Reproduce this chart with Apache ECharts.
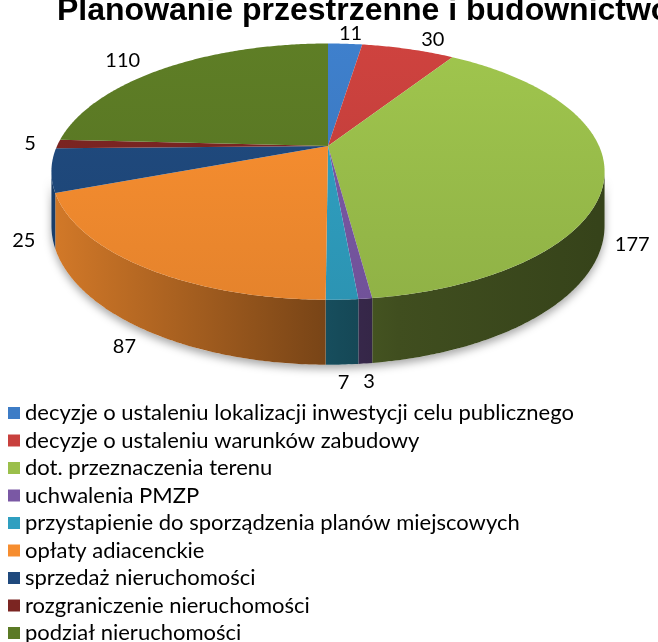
<!DOCTYPE html>
<html>
<head>
<meta charset="utf-8">
<script src="https://cdn.jsdelivr.net/npm/echarts@6/dist/echarts.min.js"></script>
<style>
  html, body { margin: 0; padding: 0; background: #fff; }
  #chart { width: 658px; height: 642px; }
</style>
</head>
<body>
<div id="chart"></div>
<script>
var title = "Planowanie przestrzenne i budownictwo";
var categories = [
  "decyzje o ustaleniu lokalizacji inwestycji celu publicznego",
  "decyzje o ustaleniu warunków zabudowy",
  "dot. przeznaczenia terenu",
  "uchwalenia PMZP",
  "przystapienie do sporządzenia planów miejscowych",
  "opłaty adiacenckie",
  "sprzedaż nieruchomości",
  "rozgraniczenie nieruchomości",
  "podział nieruchomości"
];
var values = [11, 30, 177, 3, 7, 87, 25, 5, 110];
var colors = ["#3d7cc6", "#c8403d", "#9bbf4b", "#7a58a4", "#2f9fc0", "#f68d2f", "#1f497d", "#7b2522", "#5b7a25"];

// geometry of the tilted pie (px)
var CX = 328, CY = 146, RX = 271, RY = 123, DEPTH = 52, PERSP = 0.2;
var EDGE = Math.acos(-PERSP); // where the side wall becomes visible

var total = values.reduce(function (s, v) { return s + v; }, 0);
var starts = [];
var acc = 0;
values.forEach(function (v) {
  starts.push(acc / total * Math.PI * 2);
  acc += v;
});

function pt(a, f) {
  var s = Math.sin(a), c = Math.cos(a), k = 1 / (1 + PERSP * c);
  return [CX + RX * f * s * k, CY - RY * f * c * k, k];
}

function arc(a0, a1, drop) {
  var pts = [];
  var n = Math.max(2, Math.ceil(Math.abs(a1 - a0) / 0.01));
  for (var i = 0; i <= n; i++) {
    var p = pt(a0 + (a1 - a0) * i / n, 1);
    pts.push([p[0], p[1] + (drop ? DEPTH * p[2] : 0)]);
  }
  return pts;
}

function shade(hex, f) {
  var n = parseInt(hex.slice(1), 16);
  var r = Math.min(255, Math.round((n >> 16) * f));
  var g = Math.min(255, Math.round(((n >> 8) & 255) * f));
  var b = Math.min(255, Math.round((n & 255) * f));
  return "rgb(" + r + "," + g + "," + b + ")";
}

function renderSlice(idx) {
  return function (params, api) {
    var a0 = starts[idx];
    var a1 = a0 + values[idx] / total * Math.PI * 2;
    var col = colors[idx];
    var children = [];

    if (idx === 0) {
      // soft shadow under the front wall
      children.push({
        type: "polygon",
        z2: 0,
        shape: { points: arc(EDGE, Math.PI * 2 - EDGE, false).concat(arc(Math.PI * 2 - EDGE, EDGE, true)) },
        style: { fill: "#fff", shadowBlur: 8, shadowOffsetY: 4, shadowColor: "rgba(0,0,0,0.35)" }
      });
    }

    var lo = Math.max(a0, EDGE), hi = Math.min(a1, Math.PI * 2 - EDGE);
    if (lo < hi) {
      children.push({
        type: "polygon",
        z2: 1,
        shape: { points: arc(lo, hi, false).concat(arc(hi, lo, true)) },
        style: {
          fill: new echarts.graphic.LinearGradient(CX - RX, 0, CX + RX, 0, [
            { offset: 0, color: shade(col, 0.85) },
            { offset: 0.45, color: shade(col, 0.52) },
            { offset: 0.52, color: shade(col, 0.47) },
            { offset: 0.63, color: shade(col, 0.41) },
            { offset: 1, color: shade(col, 0.35) }
          ], true)
        }
      });
    }

    children.push({
      type: "polygon",
      z2: 10,
      shape: { points: [[CX, CY]].concat(arc(a0, a1, false)) },
      style: {
        fill: new echarts.graphic.LinearGradient(0, CY - RY, 0, CY + RY * 1.25, [
          { offset: 0, color: shade(col, 1.04) },
          { offset: 1, color: shade(col, 0.93) }
        ], true)
      }
    });

    var m = (a0 + a1) / 2;
    var s = Math.sin(m), c = Math.cos(m), k = 1 / (1 + PERSP * c);
    children.push({
      type: "text",
      z2: 20,
      x: CX + RX * 1.1 * s * Math.max(1, k),
      y: CY - RY * 1.1 * c * k + (c < 0 ? DEPTH * 1.3 : 0),
      style: {
        text: String(values[idx]),
        align: "center",
        verticalAlign: "middle",
        fontFamily: "Lato",
        fontSize: 20,
        fill: "#000"
      }
    });

    return { type: "group", children: children };
  };
}

var chart = echarts.init(document.getElementById("chart"));
var series = categories.map(function (name, i) {
  return {
    name: name,
    type: "custom",
    coordinateSystem: "none",
    silent: true,
    itemStyle: { color: colors[i] },
    data: [values[i]],
    renderItem: renderSlice(i)
  };
});

chart.setOption({
  backgroundColor: "#fff",
  animation: false,
  title: {
    text: title,
    left: 57,
    top: -5,
    padding: 0,
    textStyle: { fontFamily: "Liberation Sans", fontWeight: "bold", fontSize: 32, color: "#000" }
  },
  legend: {
    orient: "vertical",
    left: 8,
    top: 402,
    height: 300,
    padding: 0,
    itemWidth: 12,
    itemHeight: 12,
    itemGap: 5.5,
    icon: "rect",
    selectedMode: false,
    textStyle: { fontFamily: "Lato", fontSize: 22, lineHeight: 22, color: "#000" },
    data: categories
  },
  series: series
});
</script>
</body>
</html>
